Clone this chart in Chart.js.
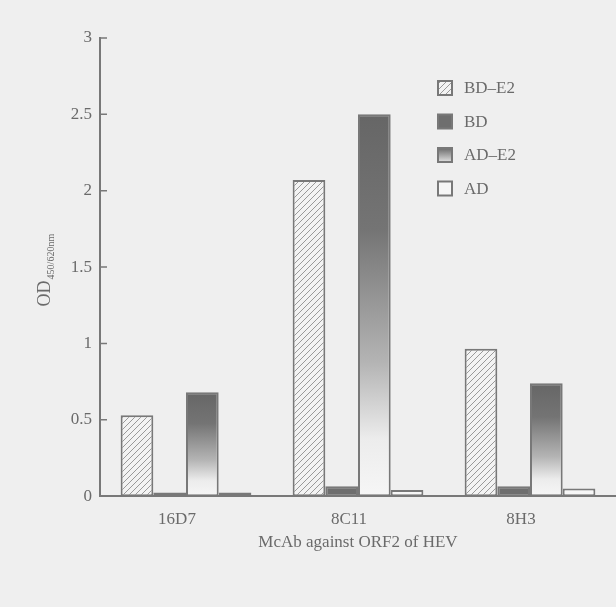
<!DOCTYPE html>
<html lang="en">
<head>
    <meta charset="UTF-8">
    <title>McAb against ORF2 of HEV</title>
    <script src="https://cdn.jsdelivr.net/npm/chart.js"></script>
    <style>
        html, body {
            margin: 0;
            padding: 0;
            background: #efefef;
        }
        #chartContainer {
            width: 616px;
            height: 607px;
        }
    </style>
</head>
<body>
    <div id="chartContainer">
        <canvas id="myChart"></canvas>
    </div>
    <script>
        // data
        const categories = ['16D7', '8C11', '8H3'];
        const seriesNames = ['BD\u2013E2', 'BD', 'AD\u2013E2', 'AD'];
        const bdE2 = [0.53, 2.07, 0.965];
        const bd = [0.025, 0.065, 0.065];
        const adE2 = [0.68, 2.50, 0.74];
        const ad = [0.025, 0.04, 0.05];
        const yTicks = [0, 0.5, 1, 1.5, 2, 2.5, 3];

        const serif = "'Liberation Serif', 'DejaVu Serif', serif";
        const ink = '#6e6e6e';
        const edge = '#787878';

        // diagonal hatch for BD-E2
        function hatchPattern() {
            const c = document.createElement('canvas');
            c.width = 6;
            c.height = 6;
            const g = c.getContext('2d');
            g.fillStyle = '#f3f3f3';
            g.fillRect(0, 0, 6, 6);
            g.strokeStyle = '#9a9a9a';
            g.lineWidth = 1;
            g.beginPath();
            g.moveTo(0, 6); g.lineTo(6, 0);
            g.moveTo(-3, 3); g.lineTo(3, -3);
            g.moveTo(3, 9); g.lineTo(9, 3);
            g.stroke();
            return g.createPattern(c, 'repeat');
        }
        const hatch = hatchPattern();

        // dark-to-white gradient, one per bar
        function fadeFill(context) {
            const chart = context.chart;
            const y = chart.scales.y;
            if (!y || context.parsed === undefined) return ink;
            const top = y.getPixelForValue(context.parsed.y);
            const base = y.getPixelForValue(0);
            if (!isFinite(top) || base - top < 2) return ink;
            const grad = chart.ctx.createLinearGradient(0, top, 0, base);
            grad.addColorStop(0, '#666666');
            grad.addColorStop(0.3, '#747474');
            grad.addColorStop(0.65, '#b4b4b4');
            grad.addColorStop(0.85, '#ececec');
            grad.addColorStop(1, '#f6f6f6');
            return grad;
        }

        function legendFill(i) {
            if (i === 0) return hatch;
            if (i === 1) return ink;
            if (i === 2) return null;
            return '#f6f6f6';
        }

        // legend inside the plot, upper right
        const insideLegend = {
            id: 'insideLegend',
            afterDraw(chart) {
                const ctx = chart.ctx;
                const x0 = 438, y0 = 88, step = 33.5, box = 14;
                ctx.save();
                ctx.font = '17px ' + serif;
                ctx.textBaseline = 'middle';
                chart.data.datasets.forEach((ds, i) => {
                    const cy = y0 + i * step;
                    let fill = legendFill(i);
                    if (fill === null) {
                        fill = ctx.createLinearGradient(0, cy - box / 2, 0, cy + box / 2);
                        fill.addColorStop(0, '#6a6a6a');
                        fill.addColorStop(1, '#e0e0e0');
                    }
                    ctx.fillStyle = fill;
                    ctx.fillRect(x0, cy - box / 2, box, box);
                    ctx.strokeStyle = edge;
                    ctx.lineWidth = 2;
                    ctx.strokeRect(x0, cy - box / 2, box, box);
                    ctx.fillStyle = '#6a6a6a';
                    ctx.fillText(ds.label, x0 + 26, cy + 1);
                });
                ctx.restore();
            }
        };

        // y title with subscript, plus short inward tick marks
        const yTitle = {
            id: 'yTitle',
            afterDraw(chart) {
                const ctx = chart.ctx;
                const area = chart.chartArea;
                const y = chart.scales.y;
                ctx.save();
                ctx.strokeStyle = edge;
                ctx.lineWidth = 1.5;
                ctx.beginPath();
                yTicks.forEach(v => {
                    if (v === 0) return;
                    const py = y.getPixelForValue(v);
                    ctx.moveTo(area.left, py);
                    ctx.lineTo(area.left + 7, py);
                });
                ctx.stroke();

                const main = 'OD', sub = '450/620nm';
                ctx.fillStyle = '#6a6a6a';
                ctx.font = '18px ' + serif;
                const wMain = ctx.measureText(main).width;
                ctx.font = '10px ' + serif;
                const wSub = ctx.measureText(sub).width;
                const total = wMain + wSub + 1;
                ctx.translate(44, (area.top + area.bottom) / 2 + 3);
                ctx.rotate(-Math.PI / 2);
                ctx.textBaseline = 'alphabetic';
                ctx.font = '18px ' + serif;
                ctx.fillText(main, -total / 2, 6);
                ctx.font = '10px ' + serif;
                ctx.fillText(sub, -total / 2 + wMain + 1, 10);
                ctx.restore();
            }
        };

        const ctx = document.getElementById('myChart').getContext('2d');
        new Chart(ctx, {
            type: 'bar',
            data: {
                labels: categories,
                datasets: [
                    { label: seriesNames[0], data: bdE2, backgroundColor: hatch },
                    { label: seriesNames[1], data: bd, backgroundColor: ink },
                    { label: seriesNames[2], data: adE2, backgroundColor: fadeFill },
                    { label: seriesNames[3], data: ad, backgroundColor: '#f6f6f6' }
                ].map(ds => Object.assign(ds, {
                    borderColor: edge,
                    borderWidth: 2,
                    borderSkipped: false,
                    categoryPercentage: 0.76,
                    barPercentage: 1.0
                }))
            },
            options: {
                responsive: true,
                maintainAspectRatio: false,
                animation: false,
                layout: {
                    padding: { top: 38, right: 0, bottom: 54, left: 0 }
                },
                plugins: {
                    legend: { display: false },
                    tooltip: { enabled: false }
                },
                scales: {
                    x: {
                        grid: { display: false },
                        border: { color: edge, width: 2 },
                        ticks: {
                            color: '#6a6a6a',
                            font: { family: serif, size: 17 },
                            padding: 5,
                            labelOffset: -9
                        },
                        title: {
                            display: true,
                            text: 'McAb against ORF2 of HEV',
                            color: '#6a6a6a',
                            font: { family: serif, size: 17 },
                            padding: { top: -2, bottom: 0 }
                        }
                    },
                    y: {
                        min: 0,
                        max: 3,
                        afterFit(scale) { scale.width = 100; },
                        afterBuildTicks(scale) {
                            scale.ticks = yTicks.map(v => ({ value: v }));
                        },
                        grid: { display: false },
                        border: { color: edge, width: 2 },
                        ticks: {
                            color: '#6a6a6a',
                            font: { family: serif, size: 17 },
                            padding: 0,
                            callback: v => String(v)
                        }
                    }
                }
            },
            plugins: [insideLegend, yTitle]
        });
    </script>
</body>
</html>
